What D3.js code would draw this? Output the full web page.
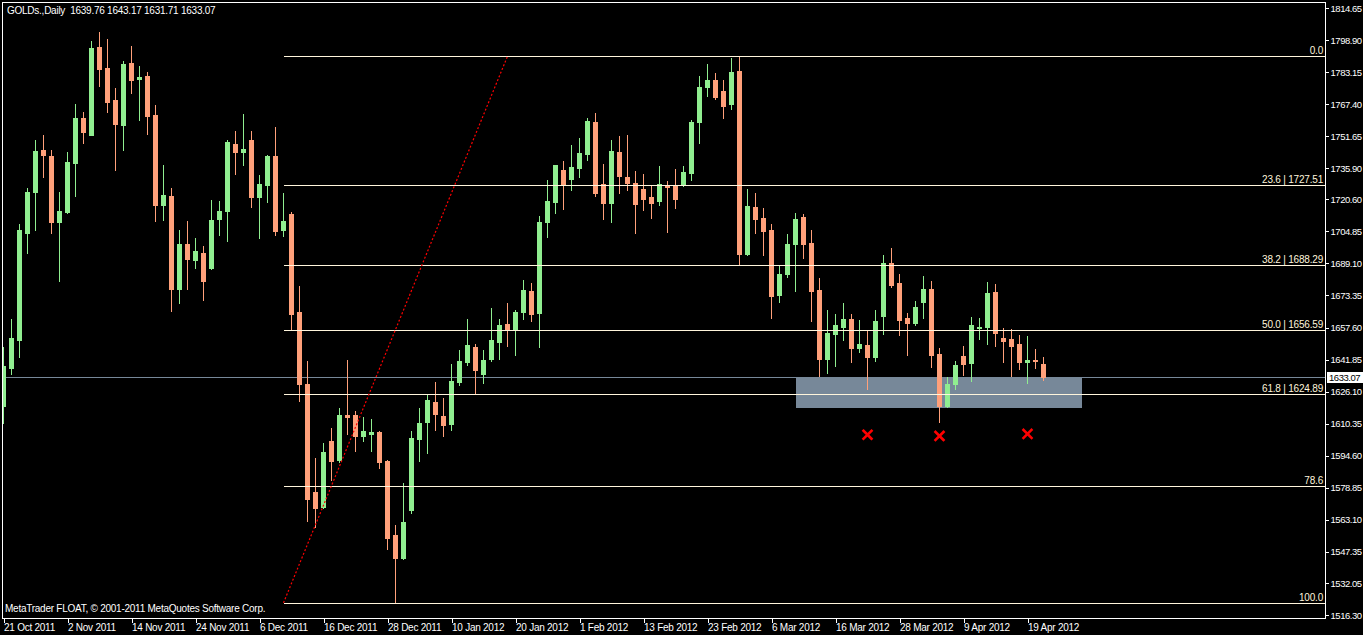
<!DOCTYPE html>
<html>
<head>
<meta charset="utf-8">
<script src="https://cdn.jsdelivr.net/npm/d3@7"></script>
<style>
html,body{margin:0;padding:0;background:#000;}
svg{display:block;}
text{font-family:"Liberation Sans",Arial,sans-serif;}
</style>
</head>
<body>
<svg id="chart" width="1363" height="635"></svg>
<script>
// ---------- DATA ----------
const symbolTitle = "GOLDs.,Daily";
const copyrightText = "MetaTrader FLOAT, \u00A9 2001-2011 MetaQuotes Software Corp.";

const open = [
1619.02,1637.70,1651.46,1704.20,1724.21,1744.85,1741.91,1709.46,1714.38,1738.46,
1760.58,1752.22,1795.48,1785.16,1769.43,1757.14,1787.62,1779.75,1781.23,1762.06,
1717.82,1722.24,1676.53,1698.65,1690.79,1694.23,1686.85,1710.93,1714.87,1747.80,
1743.87,1749.77,1721.75,1727.65,1741.91,1705.53,1713.39,1665.23,1629.85,1576.77,
1569.38,1601.82,1592.48,1614.60,1614.60,1604.28,1605.27,1606.25,1591.99,1555.62,
1544.31,1567.90,1602.80,1611.16,1620.99,1614.11,1610.18,1630.82,1640.65,1648.02,
1634.75,1642.12,1650.48,1659.33,1656.38,1665.23,1675.55,1664.74,1709.46,1719.30,
1735.02,1730.60,1736.00,1742.89,1758.62,1728.15,1718.80,1743.87,1731.58,1728.64,
1725.69,1721.75,1719.79,1727.16,1727.16,1727.65,1733.55,1758.62,1775.82,1779.26,
1773.85,1767.46,1783.68,1693.74,1716.84,1711.43,1705.53,1673.58,1683.91,1698.65,
1711.92,1699.15,1676.04,1642.12,1654.41,1657.85,1661.79,1647.53,1649.01,1643.11,
1663.26,1689.31,1679.48,1662.28,1659.82,1670.14,1676.53,1644.58,1619.02,1629.85,
1643.60,1640.16,1657.36,1657.85,1675.06,1652.45,1651.96,1649.50,1640.65,1641.63,
1639.76];

const high = [
1648.02,1661.79,1708.48,1726.17,1749.77,1752.22,1744.85,1724.21,1743.87,1767.46,
1763.53,1798.43,1802.85,1799.41,1775.33,1788.60,1795.97,1786.14,1783.19,1766.97,
1737.48,1726.17,1705.53,1709.95,1701.60,1697.67,1720.28,1719.79,1749.77,1754.19,
1762.55,1754.19,1732.56,1742.40,1756.16,1723.72,1714.38,1678.01,1641.14,1593.47,
1600.84,1608.21,1618.04,1641.64,1616.56,1613.62,1612.63,1606.50,1592.48,1560.53,
1581.18,1606.73,1618.04,1624.43,1630.82,1622.95,1639.67,1646.55,1661.79,1649.50,
1646.55,1667.19,1661.79,1669.65,1666.21,1680.96,1679.48,1712.41,1730.11,1737.60,
1739.45,1747.31,1750.76,1760.58,1763.04,1737.97,1749.77,1751.73,1752.22,1734.53,
1733.05,1727.16,1736.99,1729.62,1735.52,1736.99,1759.60,1781.23,1787.13,1782.70,
1779.26,1790.07,1790.91,1725.69,1723.72,1716.34,1708.48,1687.84,1703.57,1713.89,
1713.39,1705.53,1681.94,1666.21,1664.24,1669.65,1664.24,1661.30,1655.89,1666.21,
1693.24,1696.69,1683.91,1664.74,1670.63,1682.92,1680.47,1647.53,1633.28,1641.14,
1648.52,1662.77,1662.28,1679.97,1678.99,1657.36,1656.87,1653.92,1653.43,1647.04,
1643.17];

const low = [
1610.67,1634.75,1643.11,1694.37,1705.53,1731.73,1704.20,1680.62,1713.89,1722.24,
1748.29,1752.00,1776.31,1763.53,1735.02,1744.85,1772.87,1759.60,1752.72,1709.95,
1710.44,1665.72,1669.65,1676.53,1686.85,1671.13,1686.36,1703.08,1700.13,1733.05,
1737.48,1716.84,1701.60,1719.30,1703.08,1702.58,1656.38,1621.49,1562.51,1559.53,
1568.89,1582.65,1591.50,1605.27,1596.90,1601.82,1596.90,1588.53,1548.73,1522.27,
1544.00,1566.43,1591.99,1595.92,1607.23,1604.28,1607.23,1629.35,1639.17,1624.92,
1630.33,1641.14,1642.12,1648.52,1644.09,1661.79,1660.80,1648.02,1702.09,1713.89,
1715.85,1725.19,1731.58,1739.94,1722.24,1710.93,1709.46,1723.72,1725.19,1704.06,
1715.36,1711.43,1717.82,1704.55,1716.34,1727.40,1730.11,1748.29,1771.40,1769.92,
1760.58,1765.00,1688.33,1693.24,1704.06,1693.24,1662.28,1670.14,1682.43,1675.55,
1691.77,1660.80,1633.77,1635.24,1638.68,1651.46,1640.65,1645.56,1627.38,1641.14,
1654.41,1677.52,1653.92,1644.09,1658.83,1662.28,1638.19,1611.16,1618.53,1627.38,
1634.26,1631.31,1651.96,1649.50,1648.52,1640.65,1633.77,1637.21,1630.33,1637.70,
1631.71];

const close = [
1638.68,1652.45,1705.53,1724.21,1744.36,1742.40,1709.46,1714.87,1738.96,1760.58,
1753.70,1794.99,1784.67,1768.45,1757.63,1787.13,1779.26,1780.74,1761.57,1717.82,
1722.73,1676.53,1698.65,1691.28,1695.21,1680.47,1710.44,1714.87,1748.79,1743.87,
1745.35,1721.75,1728.15,1741.91,1705.04,1709.95,1664.24,1629.85,1573.32,1568.89,
1596.41,1591.99,1614.60,1613.62,1604.28,1606.73,1606.25,1591.50,1554.14,1544.31,
1562.01,1603.30,1610.67,1621.97,1615.09,1609.70,1631.31,1641.14,1649.01,1636.72,
1641.63,1651.46,1658.83,1656.87,1665.23,1676.04,1664.24,1709.46,1719.79,1737.48,
1727.65,1736.50,1743.38,1759.11,1723.72,1718.80,1744.36,1732.07,1728.64,1718.31,
1720.77,1718.80,1728.15,1726.67,1720.77,1734.04,1758.62,1775.82,1779.26,1770.90,
1766.48,1783.19,1693.74,1717.33,1710.93,1705.04,1673.09,1683.91,1698.65,1710.93,
1698.65,1675.55,1642.12,1654.91,1658.83,1661.79,1647.53,1649.50,1643.11,1660.80,
1689.31,1678.50,1661.30,1659.82,1667.68,1676.53,1644.09,1619.02,1629.85,1639.17,
1639.67,1658.83,1657.85,1674.57,1654.91,1650.97,1648.52,1640.65,1641.63,1641.14,
1633.07];

// date labels every 8 bars starting at bar 0
const dateLabels = ["21 Oct 2011","2 Nov 2011","14 Nov 2011","24 Nov 2011","6 Dec 2011",
  "16 Dec 2011","28 Dec 2011","10 Jan 2012","20 Jan 2012","1 Feb 2012","13 Feb 2012",
  "23 Feb 2012","6 Mar 2012","16 Mar 2012","28 Mar 2012","9 Apr 2012","19 Apr 2012"];
const dateLabelBars = [0,8,16,24,32,40,48,56,64,72,80,88,96,104,112,120,128];

const priceTicks = [1814.65,1798.90,1783.15,1767.40,1751.65,1735.90,1720.60,1704.85,1689.10,
  1673.35,1657.60,1641.85,1626.10,1610.35,1594.60,1578.85,1563.10,1547.35,1532.05,1516.30];

// Fibonacci retracement anchors (bar index, price)
const fibLowBar = 35, fibLowPrice = 1522.27;
const fibHighBar = 63, fibHighPrice = 1790.91;
const fibLevels = [0, 23.6, 38.2, 50.0, 61.8, 78.6, 100.0];
const fibLabels = ["0.0","23.6 | 1727.51","38.2 | 1688.29","50.0 | 1656.59","61.8 | 1624.89","78.6","100.0"];

// current bid
const bidPrice = 1633.07;

// support rectangle
const rectBars = [99, 134.8];
const rectPrices = [1632.9, 1618.2];

// red X markers
const markerBars = [108, 117, 128];
const markerPrices = [1604.9, 1604.3, 1605.3];

// ---------- DRAW ----------
const W = 1363, H = 635;
const plotL = 2, plotT = 2, plotR = 1325, plotB = 618;
const bullColor = "#90EE90", bearColor = "#FFA07A";
const fibColor = "#FFF5DC";
const gridGray = "#778899";

const svg = d3.select("#chart");
svg.append("rect").attr("width", W).attr("height", H).attr("fill", "#000");

const x = d3.scaleLinear().domain([0, 130]).range([3.5, 1043.5]);
const y = d3.scaleLinear().domain([1516.30, 1814.65]).range([615, 8]);

const defs = svg.append("defs");
defs.append("clipPath").attr("id", "plotclip")
  .append("rect").attr("x", plotL + 1).attr("y", plotT + 1)
  .attr("width", plotR - plotL - 1).attr("height", plotB - plotT - 1);

const plot = svg.append("g").attr("clip-path", "url(#plotclip)");

// rectangle (background object)
plot.append("rect")
  .attr("x", Math.round(x(rectBars[0])))
  .attr("y", Math.round(y(rectPrices[0])))
  .attr("width", Math.round(x(rectBars[1])) - Math.round(x(rectBars[0])))
  .attr("height", Math.round(y(rectPrices[1])) - Math.round(y(rectPrices[0])))
  .attr("fill", gridGray);

// bid line
plot.append("line")
  .attr("x1", plotL).attr("x2", plotR)
  .attr("y1", Math.round(y(bidPrice)) + 0.5).attr("y2", Math.round(y(bidPrice)) + 0.5)
  .attr("stroke", gridGray).attr("stroke-width", 1);

// candles
const bars = d3.range(open.length).map(i => ({i, o: open[i], h: high[i], l: low[i], c: close[i]}));
const cg = plot.append("g").attr("shape-rendering", "crispEdges");
const candle = cg.selectAll("g.c").data(bars).join("g").attr("class", "c");
candle.append("line")
  .attr("x1", d => x(d.i)).attr("x2", d => x(d.i))
  .attr("y1", d => Math.round(y(d.h))).attr("y2", d => Math.round(y(d.l)) + 1)
  .attr("stroke", d => d.c >= d.o ? bullColor : bearColor).attr("stroke-width", 1);
candle.append("rect")
  .attr("x", d => x(d.i) - 2.5).attr("width", 5)
  .attr("y", d => Math.round(y(Math.max(d.o, d.c))))
  .attr("height", d => Math.max(1, Math.round(y(Math.min(d.o, d.c))) - Math.round(y(Math.max(d.o, d.c))) + 1))
  .attr("fill", d => d.c >= d.o ? bullColor : bearColor);

// fibonacci levels
const fibRange = fibHighPrice - fibLowPrice;
const fibG = plot.append("g");
fibLevels.forEach((lv, k) => {
  const p = fibHighPrice - lv / 100 * fibRange;
  const yy = Math.round(y(p)) + 0.5;
  fibG.append("line").attr("x1", x(fibLowBar)).attr("x2", plotR)
    .attr("y1", yy).attr("y2", yy).attr("stroke", fibColor).attr("stroke-width", 1)
    .attr("shape-rendering", "crispEdges");
  fibG.append("text").attr("x", plotR - 2).attr("y", yy - 2.5)
    .attr("text-anchor", "end").attr("fill", fibColor)
    .attr("font-size", "10px").attr("letter-spacing", "-0.2px")
    .text(fibLabels[k]);
});

// fib trend (dotted red)
plot.append("line")
  .attr("x1", x(fibLowBar)).attr("y1", y(fibLowPrice))
  .attr("x2", x(fibHighBar)).attr("y2", y(fibHighPrice))
  .attr("stroke", "#FF0000").attr("stroke-width", 1.2)
  .attr("stroke-dasharray", "2,2");

// markers
markerBars.forEach((b, k) => {
  const cx = x(b), cy = y(markerPrices[k]);
  plot.append("path")
    .attr("d", `M${cx-4},${cy-4}L${cx+4},${cy+4}M${cx+4},${cy-4}L${cx-4},${cy+4}`)
    .attr("stroke", "#FF0000").attr("stroke-width", 2.6).attr("stroke-linecap", "square");
});

// frame
svg.append("rect").attr("x", plotL + 0.5).attr("y", plotT + 0.5)
  .attr("width", plotR - plotL).attr("height", plotB - plotT)
  .attr("fill", "none").attr("stroke", "#fff").attr("stroke-width", 1)
  .attr("shape-rendering", "crispEdges");

// axes
const xAxis = d3.axisBottom(x).tickValues(dateLabelBars)
  .tickFormat((d, i) => dateLabels[i]).tickSize(4).tickSizeOuter(0);
const gx = svg.append("g").attr("transform", `translate(0,${plotB + 0.5})`).call(xAxis);
gx.select(".domain").remove();
gx.selectAll(".tick line").attr("stroke", "#fff").attr("shape-rendering", "crispEdges");
gx.selectAll(".tick text").attr("fill", "#fff").attr("text-anchor", "start")
  .attr("x", 0).attr("y", 5.5).attr("font-size", "10px").attr("letter-spacing", "-0.25px")
  .attr("font-family", "Liberation Sans, Arial, sans-serif");

const yAxis = d3.axisRight(y).tickValues(priceTicks)
  .tickFormat(d => d.toFixed(2)).tickSize(3).tickPadding(2).tickSizeOuter(0);
const gy = svg.append("g").attr("transform", `translate(${plotR + 0.5},0)`).call(yAxis);
gy.select(".domain").remove();
gy.selectAll(".tick line").attr("stroke", "#fff").attr("shape-rendering", "crispEdges");
gy.selectAll(".tick text").attr("fill", "#fff").attr("font-size", "9.5px")
  .attr("letter-spacing", "-0.45px").attr("font-family", "Liberation Sans, Arial, sans-serif");

// bid label box
const by = Math.round(y(bidPrice));
svg.append("rect").attr("x", plotR + 2).attr("y", by - 5).attr("width", 36).attr("height", 11)
  .attr("fill", "#fff");
svg.append("text").attr("x", plotR + 4).attr("y", by + 4).attr("fill", "#000")
  .attr("font-size", "9.5px").attr("letter-spacing", "-0.45px").text(bidPrice.toFixed(2));

// header
svg.append("text").attr("x", 7).attr("y", 14).attr("fill", "#fff")
  .attr("font-size", "10px").attr("letter-spacing", "-0.25px")
  .attr("xml:space", "preserve")
  .text(`${symbolTitle}  ${open[130].toFixed(2)} ${high[130].toFixed(2)} ${low[130].toFixed(2)} ${close[130].toFixed(2)}`);

// copyright
svg.append("text").attr("x", 5).attr("y", 612).attr("fill", "#fff")
  .attr("font-size", "10px").attr("letter-spacing", "-0.25px")
  .text(copyrightText);
</script>
</body>
</html>
